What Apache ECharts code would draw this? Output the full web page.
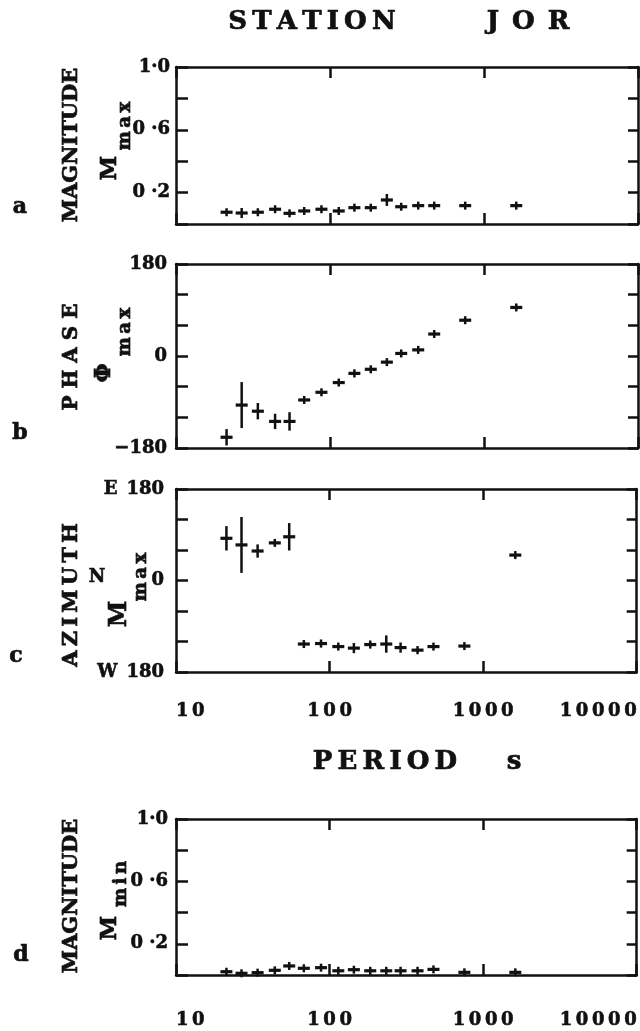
<!DOCTYPE html>
<html>
<head>
<meta charset="utf-8">
<script src="https://cdn.jsdelivr.net/npm/echarts@6/dist/echarts.min.js"></script>
<style>
  html, body { margin: 0; padding: 0; background: #ffffff; }
  #chart { width: 640px; height: 1031px; }
</style>
</head>
<body>
<div id="chart"></div>
<script>
// Period of each estimate (s)
const periods = [21.3, 26.7, 34, 44, 54.6, 68, 88, 114, 144, 184, 234, 290, 374, 475, 755, 1620];

// a: magnitude of the major axis
const magMax    = [0.075, 0.070, 0.075, 0.094, 0.068, 0.083, 0.094, 0.083, 0.104, 0.104, 0.153, 0.110, 0.117, 0.117, 0.117, 0.117];
const magMaxErr = [0.015, 0.032, 0.015, 0.012, 0.012, 0.015, 0.018, 0.015, 0.015, 0.015, 0.038, 0.013, 0.013, 0.013, 0.013, 0.012];

// b: phase of the major axis (degrees)
const phaseMax    = [-159, -96, -108, -128, -128, -86, -71, -52, -34, -26, -12, 5, 12, 43, 70, 95];
const phaseMaxErr = [16, 45, 16, 15, 18, 5, 7, 7, 8, 5, 7, 5, 6, 7, 6, 5];

// c: azimuth of the major axis (degrees, east positive)
const azMax    = [83, 70, 58, 74, 86, -125, -124, -130, -133, -126, -125, -132, -137, -130, -129, 50];
const azMaxErr = [24, 55, 13, 6, 27, 5, 8, 6, 10, 8, 17, 10, 8, 6, 6, 5];

// d: magnitude of the minor axis
const magMin    = [0.021, 0.011, 0.015, 0.030, 0.058, 0.043, 0.047, 0.027, 0.034, 0.027, 0.027, 0.027, 0.027, 0.036, 0.017, 0.017];
const magMinErr = [0.012, 0.012, 0.012, 0.012, 0.012, 0.012, 0.012, 0.012, 0.012, 0.012, 0.012, 0.012, 0.012, 0.012, 0.012, 0.012];

// Tick labels
const periodTicks   = [10, 100, 1000, 10000];
const magTickVals   = [1.0, 0.6, 0.2];
const magTickText   = ['1·0', '0 ·6', '0 ·2'];
const phaseTickVals = [180, 0, -180];
const phaseTickText = ['180', '0', '\u2212180'];
const azTickVals    = [180, 0, -180];
const azTickText    = ['E\u2002180', '0', 'W\u2002180'];

const INK = '#111111';
const SERIF = '"DejaVu Serif", "Liberation Serif", serif';
const BOX_W = 2.5;
const HALF_W = 6;     // half width of the cross bar, px
const MIN_HALF = 4;   // minimum half height of the vertical bar, px
const THIN = '\u2009';

const spaced = (s, gap) => String(s).split('').join(gap || THIN);

function crossItem(params, api) {
  const x = api.value(0), y = api.value(1), e = api.value(2);
  const c = api.coord([x, y]);
  const hi = api.coord([x, y + e])[1];
  const lo = api.coord([x, y - e])[1];
  const top = Math.min(hi, c[1] - MIN_HALF);
  const bot = Math.max(lo, c[1] + MIN_HALF);
  return {
    type: 'group',
    children: [
      { type: 'line', shape: { x1: c[0] - HALF_W, y1: c[1], x2: c[0] + HALF_W, y2: c[1] },
        style: { stroke: INK, lineWidth: 3.2 } },
      { type: 'line', shape: { x1: c[0], y1: top, x2: c[0], y2: bot },
        style: { stroke: INK, lineWidth: 2.5 } }
    ]
  };
}

const panels = [
  { top: 67,  height: 157, min: 0,    max: 1,   interval: 0.2, vals: magMax,   errs: magMaxErr,   tv: magTickVals,   tt: magTickText,   ymargin: 6,  xLabels: false },
  { top: 264, height: 184, min: -180, max: 180, interval: 60,  vals: phaseMax, errs: phaseMaxErr, tv: phaseTickVals, tt: phaseTickText, ymargin: 9,  xLabels: false },
  { top: 489, height: 183, min: -180, max: 180, interval: 60,  vals: azMax,    errs: azMaxErr,    tv: azTickVals,    tt: azTickText,    ymargin: 12, xLabels: true, xmargin: 30 },
  { top: 819, height: 156, min: 0,    max: 1,   interval: 0.2, vals: magMin,   errs: magMinErr,   tv: magTickVals,   tt: magTickText,   ymargin: 8,  xLabels: true, xmargin: 36 }
];

const grid = [], xAxis = [], yAxis = [], series = [];
const lineStyle = { color: INK, width: BOX_W };
const tickStyle = { color: INK, width: 2.5 };
const heavy = { textBorderColor: INK, textBorderWidth: 0.6 };

panels.forEach((p, i) => {
  grid.push({ left: 176, width: 462, top: p.top, height: p.height, containLabel: false });
  // bottom period axis
  xAxis.push({
    type: 'log', logBase: 10, min: periodTicks[0], max: periodTicks[periodTicks.length - 1],
    gridIndex: i, position: 'bottom',
    axisLine: { show: true, onZero: false, lineStyle },
    axisTick: { show: true, inside: true, length: 11, lineStyle: tickStyle },
    minorTick: { show: false }, splitLine: { show: false },
    axisLabel: Object.assign({
      show: p.xLabels, margin: p.xmargin || 8,
      color: INK, fontFamily: SERIF, fontWeight: 'bold', fontSize: 18,
      showMinLabel: true, showMaxLabel: true,
      alignMinLabel: 'left', alignMaxLabel: 'right',
      formatter: v => spaced(Math.round(v))
    }, heavy)
  });
  // top period axis (ticks only)
  xAxis.push({
    type: 'log', logBase: 10, min: periodTicks[0], max: periodTicks[periodTicks.length - 1],
    gridIndex: i, position: 'top',
    axisLine: { show: true, onZero: false, lineStyle },
    axisTick: { show: true, inside: true, length: 11, lineStyle: tickStyle },
    splitLine: { show: false }, axisLabel: { show: false }
  });
  const fmt = v => {
    const k = p.tv.findIndex(t => Math.abs(t - v) < 1e-6);
    return k >= 0 ? p.tt[k] : '';
  };
  yAxis.push({
    type: 'value', gridIndex: i, position: 'left',
    min: p.min, max: p.max, interval: p.interval,
    axisLine: { show: true, onZero: false, lineStyle },
    axisTick: { show: true, inside: true, length: 12, lineStyle: tickStyle },
    splitLine: { show: false },
    axisLabel: Object.assign({
      show: true, margin: p.ymargin, color: INK,
      fontFamily: SERIF, fontWeight: 'bold', fontSize: 18,
      showMinLabel: true, showMaxLabel: true,
      formatter: fmt
    }, heavy)
  });
  yAxis.push({
    type: 'value', gridIndex: i, position: 'right',
    min: p.min, max: p.max, interval: p.interval,
    axisLine: { show: true, onZero: false, lineStyle },
    axisTick: { show: true, inside: true, length: 10, lineStyle: tickStyle },
    splitLine: { show: false }, axisLabel: { show: false }
  });
  series.push({
    type: 'custom',
    xAxisIndex: i * 2, yAxisIndex: i * 2,
    renderItem: crossItem,
    encode: { x: 0, y: 1 },
    clip: false,
    data: periods.map((t, k) => [t, p.vals[k], p.errs[k]])
  });
});

function label(text, x, y, size, rotate) {
  return {
    type: 'text', x, y, rotation: rotate ? Math.PI / 2 : 0, silent: true,
    style: {
      text, fill: INK, font: `bold ${size}px ${SERIF}`,
      stroke: INK, lineWidth: 0.7,
      textAlign: 'center', textVerticalAlign: 'middle',
      align: 'center', verticalAlign: 'middle'
    }
  };
}

const graphic = [
  // heading
  label(spaced('STATION'), 312, 22, 26, false),
  label('J\u2002O\u2002R', 528, 22, 26, false),
  // panel a
  label('a', 20, 207, 22, false),
  label('MAGNITUDE', 72, 145, 21, true),
  label('M', 110, 168, 22, true),
  label(spaced('max'), 125, 126, 18, true),
  // panel b
  label('b', 20, 433, 22, false),
  label('P H A S E', 72, 357, 20, true),
  label('Φ', 104, 373, 22, true),
  label(spaced('max'), 125, 332, 18, true),
  // panel c
  label('c', 16, 656, 22, false),
  label(spaced('AZIMUTH'), 72, 595, 21, true),
  label('N', 97, 577, 18, false),
  label('M', 120, 614, 24, true),
  label(spaced('max'), 141, 577, 18, true),
  // period axis title
  label(spaced('PERIOD'), 385, 762, 26, false),
  label('s', 514, 762, 26, false),
  // panel d
  label('d', 21, 955, 22, false),
  label('MAGNITUDE', 72, 896, 21, true),
  label('M', 110, 928, 22, true),
  label(spaced('min'), 121, 884, 18, true)
];

const chart = echarts.init(document.getElementById('chart'), null, { renderer: 'canvas' });
chart.setOption({
  backgroundColor: '#ffffff',
  animation: false,
  grid, xAxis, yAxis, series, graphic
});
</script>
</body>
</html>
